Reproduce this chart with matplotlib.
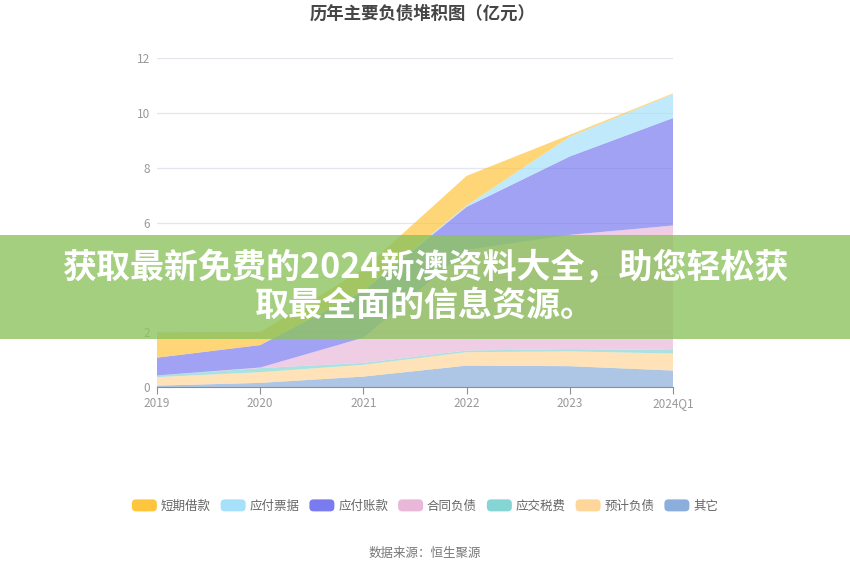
import matplotlib
matplotlib.use('Agg')
import matplotlib.pyplot as plt
from matplotlib.patches import Patch, Rectangle, FancyBboxPatch
from matplotlib.legend_handler import HandlerPatch

plt.rcParams['font.family'] = ['Noto Sans CJK SC', 'DejaVu Sans']

# data (亿元), stacked from bottom to top
years = ['2019', '2020', '2021', '2022', '2023', '2024Q1']
qita = [0.05, 0.15, 0.38, 0.78, 0.76, 0.60]          # 其它
yujifuzhai = [0.31, 0.39, 0.43, 0.49, 0.54, 0.62]    # 预计负债
yingjiaoshuifei = [0.06, 0.15, 0.07, 0.06, 0.08, 0.13]  # 应交税费
hetongfuzhai = [0.00, 0.02, 0.92, 3.67, 4.17, 4.54]  # 合同负债
yingfuzhangkuan = [0.65, 0.82, 1.70, 1.57, 2.86, 3.92]  # 应付账款
yingfupiaoju = [0.00, 0.00, 0.03, 0.05, 0.72, 0.87]  # 应付票据
duanqijiekuan = [0.90, 0.47, 0.77, 1.08, 0.07, 0.03]  # 短期借款

series = [qita, yujifuzhai, yingjiaoshuifei, hetongfuzhai,
          yingfuzhangkuan, yingfupiaoju, duanqijiekuan]
names = ['其它', '预计负债', '应交税费', '合同负债', '应付账款', '应付票据', '短期借款']
colors = ['#8BAEDC', '#FFD699', '#86D5D5', '#E9B8D9', '#7B7BF0', '#A6E0FA', '#FFC53D']


# rounded legend swatches
class RoundHandler(HandlerPatch):
    def create_artists(self, legend, orig_handle, xdescent, ydescent,
                       width, height, fontsize, trans):
        p = FancyBboxPatch((-xdescent, -ydescent), width, height,
                           boxstyle='round,pad=0,rounding_size=3',
                           facecolor=orig_handle.get_facecolor(),
                           edgecolor='none', transform=trans)
        return [p]


fig = plt.figure(figsize=(8.5, 5.75), dpi=100)
ax = fig.add_axes([157 / 850, 1 - 387 / 575, (673 - 157) / 850, (387 - 58) / 575])

x = list(range(len(years)))
ax.stackplot(x, *series, colors=colors, alpha=0.7, linewidth=0)

ax.set_xlim(0, len(years) - 1)
ax.set_ylim(0, 12)
ax.set_yticks(range(0, 13, 2))
ax.set_xticks(x)
ax.set_xticklabels(years)

ax.grid(axis='y', color='#E3E6EC', linewidth=0.9)
ax.set_axisbelow(True)
for s in ['top', 'right', 'left']:
    ax.spines[s].set_visible(False)
ax.spines['bottom'].set_color('#8A8F99')
ax.tick_params(axis='y', length=0, labelsize=8.5, labelcolor='#999999', pad=5)
ax.tick_params(axis='x', length=5, color='#8A8F99', labelsize=8.5,
               labelcolor='#999999', pad=2)

fig.text(0.497, 0.976, '历年主要负债堆积图（亿元）', ha='center', va='center',
         fontsize=12.5, fontweight='bold', color='#464646')

# legend in the reference's order
handles = [Patch(facecolor=colors[i], edgecolor='none') for i in range(6, -1, -1)]
labels = [names[i] for i in range(6, -1, -1)]
fig.legend(handles, labels, loc='center', bbox_to_anchor=(0.5, 1 - 506 / 575),
           ncol=7, frameon=False, fontsize=9, labelcolor='#666666',
           handlelength=2.0, handleheight=1.1, handletextpad=0.3,
           columnspacing=0.8, handler_map={Patch: RoundHandler()})

fig.text(0.5, 1 - 553 / 575, '数据来源：恒生聚源', ha='center', va='center',
         fontsize=9, color='#777777')

# green banner overlay
banner = Rectangle((0, 1 - 339 / 575), 1, (339 - 235) / 575,
                   transform=fig.transFigure, facecolor='#8CC35F',
                   alpha=0.8, edgecolor='none', zorder=10)
fig.add_artist(banner)
fig.text(0.5, 1 - 268 / 575, '获取最新免费的2024新澳资料大全，助您轻松获',
         ha='center', va='center', fontsize=24.5, fontweight='heavy',
         color='white', zorder=11)
fig.text(0.5, 1 - 305 / 575, '取最全面的信息资源。',
         ha='center', va='center', fontsize=24.5, fontweight='heavy',
         color='white', zorder=11)

fig.savefig('out.png', dpi=100)
